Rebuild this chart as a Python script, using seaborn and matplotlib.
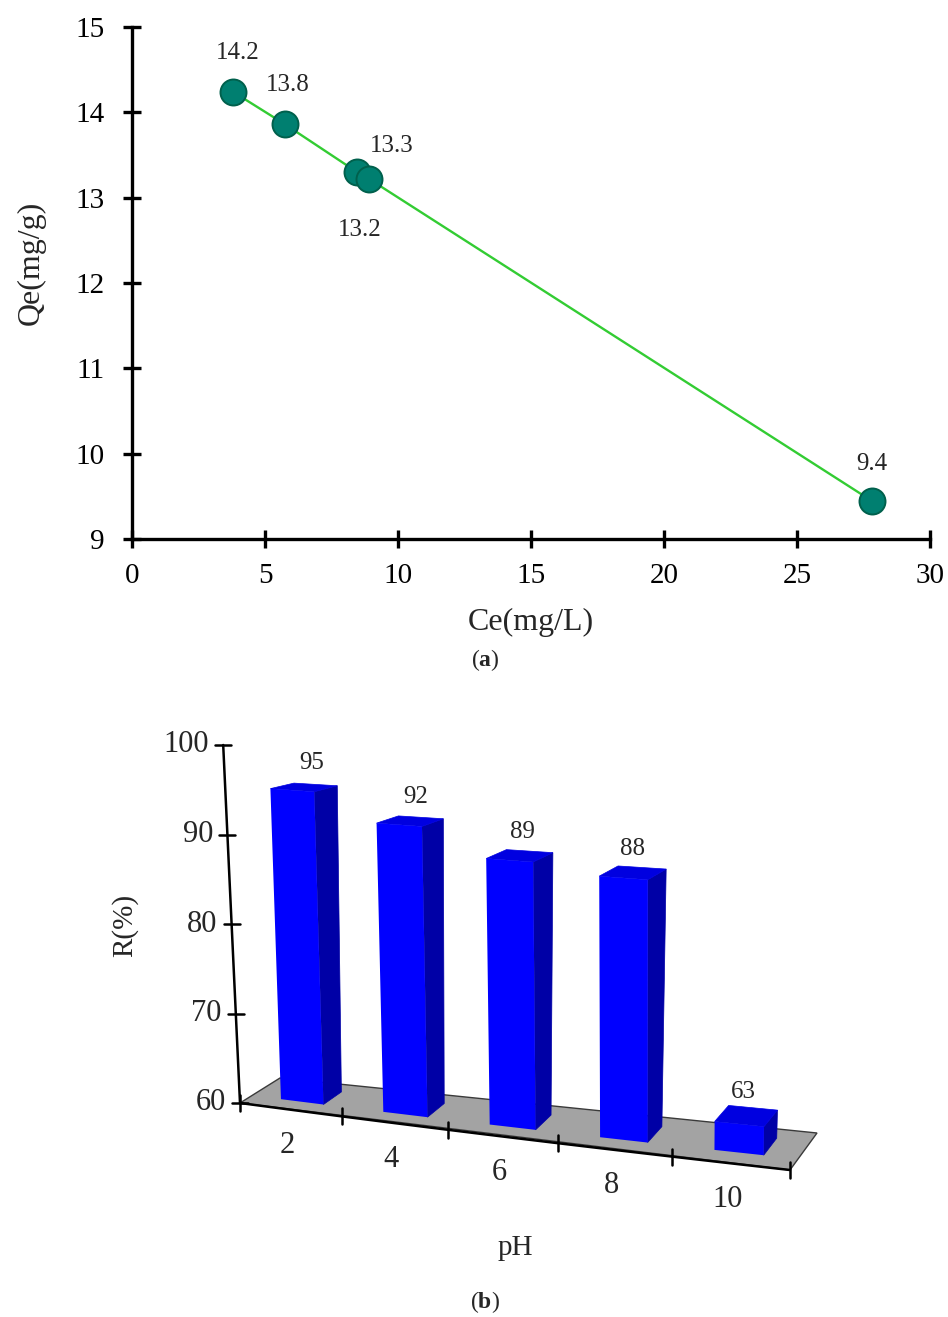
import numpy as np
import pandas as pd
import matplotlib
matplotlib.use("Agg")
import matplotlib.pyplot as plt
import seaborn as sns
from matplotlib.transforms import Transform

# ---------------- data ----------------
# panel (a)
ce_values = [3.8, 5.75, 8.46, 8.91, 27.82]
qe_values = [14.24, 13.86, 13.30, 13.22, 9.445]
qe_point_labels = ["14.2", "13.8", "13.3", "13.2", "9.4"]
a_xticks = [0, 5, 10, 15, 20, 25, 30]
a_yticks = [9, 10, 11, 12, 13, 14, 15]

# panel (b)
ph_labels = ["2", "4", "6", "8", "10"]
removal_pct = [95, 92, 89, 88, 63]
b_yticks = [60, 70, 80, 90, 100]
b_baseline = 60

# ---------------- style ----------------
sns.set_style("ticks")
plt.rcParams["font.family"] = ["Liberation Serif", "DejaVu Serif"]
plt.rcParams["mathtext.fontset"] = "custom"
plt.rcParams["mathtext.rm"] = "Liberation Serif"
plt.rcParams["mathtext.bf"] = "Liberation Serif:bold"

W, H = 948, 1317
fig = plt.figure(figsize=(W / 100, H / 100), dpi=100)

# pixel-space canvas for panel (b) decorations
ax_p = fig.add_axes([0, 0, 1, 1], zorder=0)
ax_p.set_xlim(0, W)
ax_p.set_ylim(H, 0)
ax_p.set_axis_off()

# ---------------- panel (a) ----------------
left_px, right_px, top_px, bot_px = 132, 930, 27, 539
ax_a = fig.add_axes([left_px / W, 1 - bot_px / H, (right_px - left_px) / W,
                     (bot_px - top_px) / H], zorder=2)
ax_a.patch.set_alpha(0)
df_a = pd.DataFrame({"Ce": ce_values, "Qe": qe_values})
sns.lineplot(data=df_a, x="Ce", y="Qe", ax=ax_a, color="#33cc33", lw=1.7,
             sort=False, zorder=2)
sns.scatterplot(data=df_a, x="Ce", y="Qe", ax=ax_a, s=350, color="#007f70",
                edgecolor="#00604c", linewidth=1.4, zorder=3)
ax_a.set_xlim(0, 30)
ax_a.set_ylim(9, 15)
ax_a.set_xticks(a_xticks)
ax_a.set_yticks(a_yticks)
sns.despine(ax=ax_a)
for s in ["left", "bottom"]:
    ax_a.spines[s].set_linewidth(2.4)
    ax_a.spines[s].set_color("black")
ax_a.tick_params(direction="inout", length=13, width=2.4, labelsize=21,
                 colors="black")
ax_a.tick_params(axis="x", pad=11)
ax_a.tick_params(axis="y", pad=13)
ax_a.set_xlabel("Ce(mg/L)", fontsize=23)
ax_a.set_ylabel("Qe(mg/g)", fontsize=23)
ax_a.xaxis.set_label_coords(0.5, -0.135)
ax_a.yaxis.set_label_coords(-0.108, 0.54)
label_offsets = [(3, 28), (2, 28), (25, 19), (-7, -37), (0, 27)]
for xv, yv, txt, off in zip(ce_values, qe_values, qe_point_labels, label_offsets):
    ax_a.annotate(txt, (xv, yv), xytext=off, textcoords="offset points",
                  ha="center", va="center", fontsize=18)

# ---------------- panel (b): oblique 3-D look ----------------
def project(u, h, w):
    u = np.asarray(u, float)
    h = np.asarray(h, float)
    w = np.asarray(w, float)
    x0 = 240 + 100 * u + 2 * u ** 2
    y0 = 1103 + 13.4 * u
    tilt = -0.42 + 0.09 * u
    vs = 8.95 + 0.15 * u
    dx = 40 - 2.6 * u + 0.31 * h
    dy = -25 - 2.4 * u + 0.4 * h
    return x0 + tilt * h + w * dx, y0 - vs * h + w * dy


class Oblique(Transform):
    input_dims = 2
    output_dims = 2
    is_separable = False
    has_inverse = False

    def __init__(self, wpos, shift=0.5):
        super().__init__()
        self.wpos = wpos
        self.shift = shift

    def transform_non_affine(self, values):
        v = np.asarray(values, float)
        X, Y = project(v[:, 0] + self.shift, v[:, 1], self.wpos)
        return np.column_stack([X, Y])


w_front, w_back = 0.3, 0.77
n_cat = len(ph_labels)

# floor
fu = [0, n_cat, n_cat, 0]
fw = [0, 0, 1, 1]
FX, FY = project(fu, [0] * 4, fw)
ax_p.fill(FX, FY, facecolor="#a3a3a3", edgecolor="#3a3a3a", lw=1.0, zorder=1)

# bars via seaborn (front faces), then re-projected
ax_b = fig.add_axes([0, 0, 1, 1], zorder=1)
ax_b.patch.set_alpha(0)
df_b = pd.DataFrame({"pH": ph_labels,
                     "above": np.array(removal_pct, float) - b_baseline})
sns.barplot(data=df_b, x="pH", y="above", ax=ax_b, color="#0000ff",
            saturation=1, width=0.42, errorbar=None, linewidth=0)
ax_b.set_axis_off()
trans = Oblique(w_front) + ax_p.transData
for k, (patch, val) in enumerate(zip(ax_b.patches, removal_pct)):
    patch.set_transform(trans)
    patch.set_clip_on(False)
    x0 = patch.get_x() + 0.5
    x1 = x0 + patch.get_width()
    h = patch.get_height()
    # side face
    SX, SY = project([x1, x1, x1, x1], [0, h, h, 0],
                     [w_front, w_front, w_back, w_back])
    ax_p.fill(SX, SY, facecolor="#0000a6", edgecolor="#0000a6", lw=0.5, zorder=2)
    # top face
    TX, TY = project([x0, x1, x1, x0], [h, h, h, h],
                     [w_front, w_front, w_back, w_back])
    ax_p.fill(TX, TY, facecolor="#0000e0", edgecolor="#0000e0", lw=0.5, zorder=2)
    cx, cy = project((x0 + x1) / 2, h, (w_front + w_back) / 2)
    ax_p.text(float(cx) + 8 - 2.8 * k, float(cy) - 24, str(val), ha="center",
              va="center", fontsize=18)

# y axis
yh = np.array(b_yticks, float) - b_baseline
AX, AY = project([0, 0], [yh.min(), yh.max()], [0, 0])
ax_p.plot(AX, AY, color="black", lw=1.8, zorder=3)
for hv, lab in zip(yh, b_yticks):
    tx, ty = project(0, hv, 0)
    ax_p.plot([tx - 8, tx + 8], [ty, ty], color="black", lw=1.8, zorder=3)
    ax_p.text(float(tx) - 14, float(ty), str(lab), ha="right", va="center",
              fontsize=22)

# x axis
uu = np.linspace(0, n_cat, 50)
XX, XY = project(uu, np.zeros_like(uu), np.zeros_like(uu))
ax_p.plot(XX, XY, color="black", lw=1.8, zorder=3)
for k in range(n_cat + 1):
    tx, ty = project(k, 0, 0)
    ax_p.plot([tx, tx], [ty - 8, ty + 8], color="black", lw=1.8, zorder=3)
for k, lab in enumerate(ph_labels):
    tx, ty = project(k + 0.5, 0, 0)
    ax_p.text(float(tx) - 3, float(ty) + 36, lab, ha="center", va="center",
              fontsize=22)

ax_p.text(515, 1248, "pH", ha="center", va="center", fontsize=21)
ax_p.text(125, 925, "R(%)", ha="center", va="center", rotation=90, fontsize=21)

# panel captions
ax_p.text(485, 660, r"($\mathbf{a}$)", ha="center", va="center", fontsize=17)
ax_p.text(485, 1302, r"($\mathbf{b}$)", ha="center", va="center", fontsize=17)

fig.savefig("out.png", dpi=100)
